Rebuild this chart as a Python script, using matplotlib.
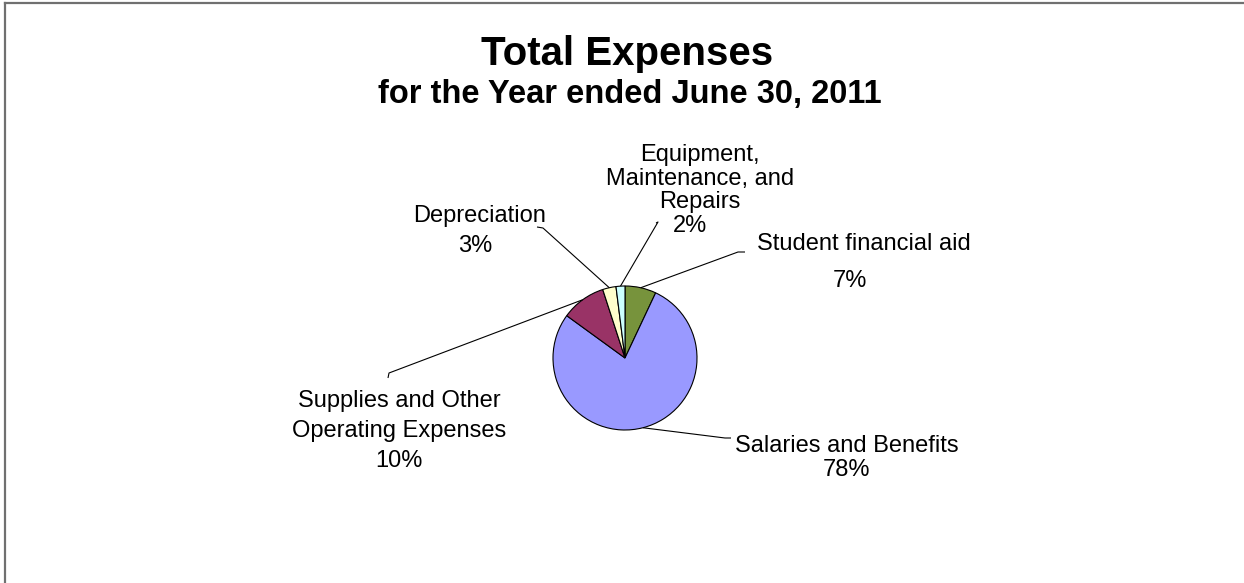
import numpy as np
import matplotlib.pyplot as plt
from matplotlib.lines import Line2D

plt.rcParams['font.family'] = ['Liberation Sans', 'DejaVu Sans']

# expense categories, clockwise from 12 o'clock
categories = ["Student financial aid",
              "Salaries and Benefits",
              "Supplies and Other\nOperating Expenses",
              "Depreciation",
              "Equipment,\nMaintenance, and\nRepairs"]
shares = [7, 78, 10, 3, 2]
colors = ["#77933C", "#9999FF", "#993366", "#FFFFCC", "#CCFFFF"]

W, H = 1244, 583

# label layout in pixels: x centre, first baseline, line step, x shift of the % line
label_pos = [(864, 250, 37, -14),
             (847, 452, 24, 0),
             (399, 407, 30, 0),
             (480, 222, 30, -5),
             (700, 161, 23.5, -10)]
# leader lines: label end of the stub, then the knee
leader_pts = [((745, 252), (738, 252)),
              ((731, 438), (725, 438)),
              ((388, 378), (389, 373)),
              ((537, 227), (543, 228)),
              ((656, 223), (658, 222))]

fig = plt.figure(figsize=(12.44, 5.83), dpi=100)
ax = fig.add_axes([0, 0, 1, 1])

cx, cy, r = 625, H - 358, 72
wedges, _ = ax.pie(shares, colors=colors, startangle=90, counterclock=False,
                   center=(cx, cy), radius=r,
                   wedgeprops=dict(edgecolor="black", linewidth=0.8))
ax.set_xlim(0, W)
ax.set_ylim(0, H)
ax.set_aspect("equal")
ax.axis("off")

ax.text(627, H - 65, "Total Expenses", ha="center", va="baseline",
        fontsize=29, fontweight="bold")
ax.text(630, H - 103, "for the Year ended June 30, 2011", ha="center",
        va="baseline", fontsize=23.5, fontweight="bold")

for w, name, val, (x, y0, dy, pdx), (p0, knee) in zip(
        wedges, categories, shares, label_pos, leader_pts):
    lines = name.split("\n")
    for i, s in enumerate(lines):
        ax.text(x, H - (y0 + i * dy), s, ha="center", va="baseline", fontsize=17)
    ax.text(x + pdx, H - (y0 + len(lines) * dy), f"{val}%", ha="center",
            va="baseline", fontsize=17)

    # leader from the label to the rim at the wedge's mid angle
    mid = np.deg2rad((w.theta1 + w.theta2) / 2)
    ax_x = w.center[0] + w.r * np.cos(mid)
    ax_y = w.center[1] + w.r * np.sin(mid)
    ax.plot([p0[0], knee[0], ax_x], [H - p0[1], H - knee[1], ax_y],
            color="black", lw=0.8, solid_capstyle="butt")

# chart area border (top and left edges only)
fig.add_artist(Line2D([5 / W, 1], [1 - 3 / H, 1 - 3 / H], color="#707070", lw=1.6))
fig.add_artist(Line2D([5 / W, 5 / W], [0, 1 - 3 / H], color="#707070", lw=1.6))

fig.savefig("out.png", dpi=100)
